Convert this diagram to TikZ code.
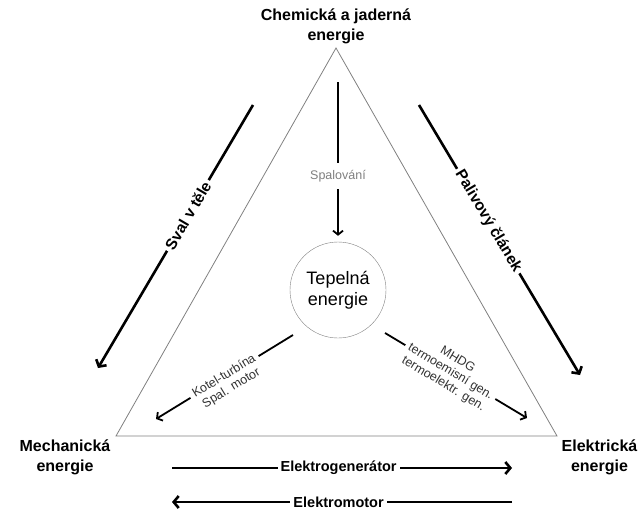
\documentclass[tikz,border=0pt]{standalone}
\usepackage{fontspec}
\setmainfont{Liberation Sans}
\usetikzlibrary{arrows.meta,positioning}

\begin{document}
\begin{tikzpicture}[
    x=1pt, y=-1pt,
    energy/.style={align=center, inner sep=0pt, font=\fontsize{16}{20}\selectfont\bfseries},
    way/.style={line width=2.6pt, -{Straight Barb[length=5pt,width=12pt]}},
    inway/.style={line width=1.8pt, -{Straight Barb[length=4pt,width=10pt]}},
    waylabel/.style={fill=white, inner sep=3pt, font=\fontsize{15.5}{18}\selectfont\bfseries},
    inlabel/.style={fill=white, inner sep=4pt, align=center, text=black!80, font=\fontsize{12.5}{14}\selectfont}
]
    \useasboundingbox (0,0) rectangle (639,511);

    % Triangle
    \coordinate (apex) at (336,48);
    \coordinate (left) at (116,436);
    \coordinate (right) at (557,436);
    \draw[gray, line width=0.8pt] (apex) -- (left) -- (right) -- cycle;

    % Corners
    \node[energy] (chem) at (336,26) {Chemická a jaderná\\energie};
    \node[energy] (mech) at (65,457) {Mechanická\\energie};
    \node[energy] (elek) at (599.5,457) {Elektrická\\energie};

    % Centre
    \node[draw=gray, circle, minimum size=96pt, align=center,
          font=\fontsize{18}{21}\selectfont] (tepl) at (338,290) {Tepelná\\energie};

    % Outer arrows
    \coordinate (sval1) at (253,105);
    \coordinate (sval2) at (98,368);
    \draw[way] (sval1) -- (sval2) node[pos=0.42, sloped, waylabel] {Sval v těle};

    \coordinate (pal1) at (419,105);
    \coordinate (pal2) at (580,375);
    \draw[way] (pal1) -- (pal2) node[pos=0.43, sloped, waylabel] {Palivový článek};

    \coordinate (gen1) at (172,468);
    \coordinate (gen2) at (512,468);
    \draw[way] (gen1) -- (gen2) node[pos=0.49, waylabel, font=\fontsize{14.5}{17}\selectfont\bfseries] {Elektrogenerátor};

    \coordinate (mot1) at (512,502);
    \coordinate (mot2) at (172,502);
    \draw[way] (mot1) -- (mot2) node[pos=0.51, waylabel, font=\fontsize{14.5}{17}\selectfont\bfseries] {Elektromotor};

    % Inner arrows
    \coordinate (spal) at (338,82);
    \draw[inway, shorten >=6pt] (spal) -- (tepl) node[pos=0.59, inlabel, inner ysep=7pt, text=gray] {Spalování};

    \coordinate (kot1) at (293,335);
    \coordinate (kot2) at (156,419);
    \draw[inway] (kot1) -- (kot2) node[pos=0.5, sloped, anchor=mid, inlabel]
        {\begin{tabular}[t]{@{}c@{}}Kotel-turbína\\Spal. motor\end{tabular}};

    \coordinate (mhd1) at (385,333);
    \coordinate (mhd2) at (527,418);
    \draw[inway] (mhd1) -- (mhd2) node[pos=0.46, sloped, inlabel] {MHDG\\termoemisní gen.\\termoelektr. gen.};
\end{tikzpicture}
\end{document}
